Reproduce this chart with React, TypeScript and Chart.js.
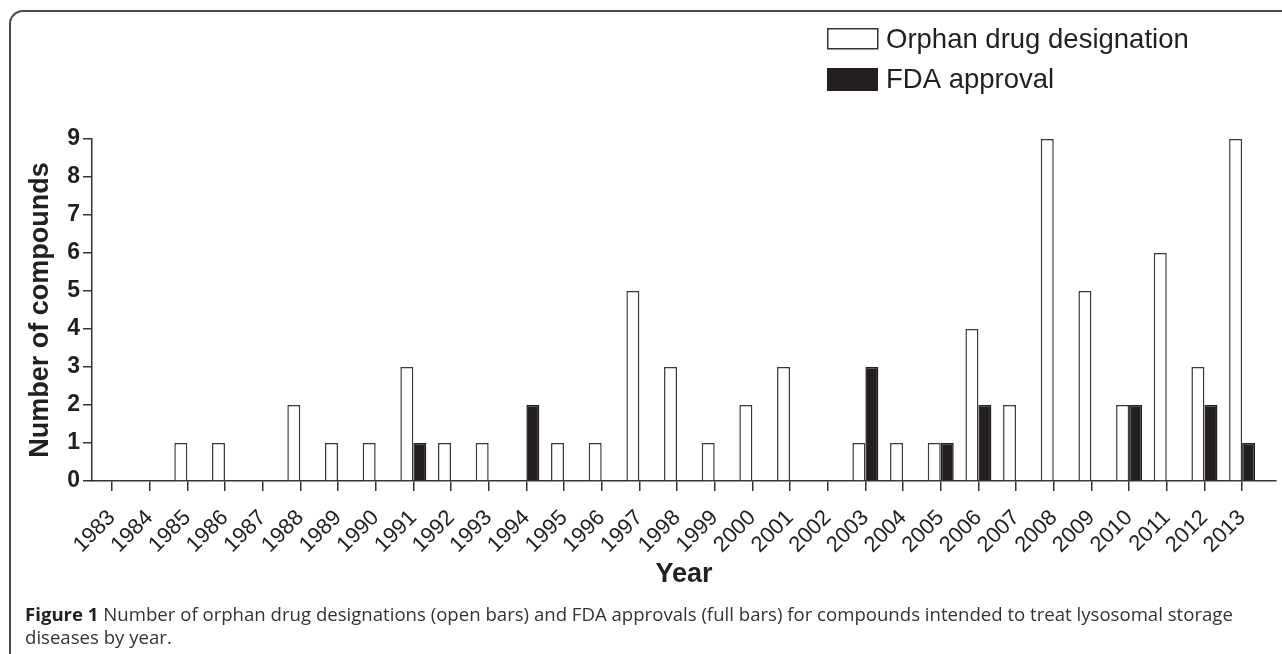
import React, { useEffect, useRef } from "react";
import { Chart, registerables } from "chart.js";

Chart.register(...registerables);

const years = [
  1983, 1984, 1985, 1986, 1987, 1988, 1989, 1990, 1991, 1992, 1993, 1994, 1995, 1996, 1997,
  1998, 1999, 2000, 2001, 2002, 2003, 2004, 2005, 2006, 2007, 2008, 2009, 2010, 2011, 2012, 2013,
];
const orphanDesignations = [
  0, 0, 1, 1, 0, 2, 1, 1, 3, 1, 1, 0, 1, 1, 5, 3, 1, 2, 3, 0, 1, 1, 1, 4, 2, 9, 5, 2, 6, 3, 9,
];
const fdaApprovals = [
  0, 0, 0, 0, 0, 0, 0, 0, 1, 0, 0, 2, 0, 0, 0, 0, 0, 0, 0, 0, 3, 0, 1, 2, 0, 0, 0, 2, 0, 2, 1,
];
const seriesLabels = ["Orphan drug designation", "FDA approval"];
const yTicks = [0, 1, 2, 3, 4, 5, 6, 7, 8, 9];

const xMin = 1982.47;
const xMax = 2013.9;

const INK = "#231f20";
const LINE = "#333333";
const FONT = "'Liberation Sans', Arial, Helvetica, sans-serif";

const legendPlugin = {
  id: "boxLegend",
  afterDraw(chart: any) {
    const ctx = chart.ctx as CanvasRenderingContext2D;
    ctx.save();
    chart.data.datasets.forEach((ds: any, i: number) => {
      const bx = 827;
      const by = 28 + i * 40;
      if (i === 0) {
        ctx.fillStyle = "#fff";
        ctx.fillRect(bx, by, 51, 21);
        ctx.strokeStyle = LINE;
        ctx.lineWidth = 1.5;
        ctx.strokeRect(bx + 0.75, by + 0.75, 50, 20);
      } else {
        ctx.fillStyle = INK;
        ctx.fillRect(bx, by, 51, 23);
      }
      ctx.fillStyle = INK;
      ctx.font = `27.5px ${FONT}`;
      ctx.textBaseline = "middle";
      ctx.textAlign = "left";
      ctx.fillText(ds.label, 886, by + 12);
    });
    ctx.restore();
  },
};

export default function App() {
  const canvasRef = useRef<HTMLCanvasElement | null>(null);

  useEffect(() => {
    if (!canvasRef.current) return;
    Chart.defaults.font.family = FONT;
    const chart = new Chart(canvasRef.current, {
      type: "bar",
      data: {
        labels: years,
        datasets: [
          {
            label: seriesLabels[0],
            data: orphanDesignations,
            backgroundColor: "#ffffff",
            borderColor: "#3a3a3a",
            borderWidth: 1.5,
            categoryPercentage: 0.69,
            barPercentage: 1,
          },
          {
            label: seriesLabels[1],
            data: fdaApprovals,
            backgroundColor: INK,
            borderColor: INK,
            borderWidth: 1.5,
            categoryPercentage: 0.69,
            barPercentage: 1,
          },
        ],
      },
      options: {
        animation: false,
        responsive: false,
        devicePixelRatio: 1,
        layout: { padding: { top: 139, left: 0, right: 6, bottom: 53 } },
        plugins: {
          legend: { display: false },
          tooltip: { enabled: false },
        },
        scales: {
          x: {
            type: "linear",
            min: xMin,
            max: xMax,
            offset: false,
            afterBuildTicks: (scale: any) => {
              scale.ticks = years.map((v) => ({ value: v }));
            },
            afterFit: (scale: any) => {
              scale.height = 120;
            },
            ticks: {
              autoSkip: false,
              minRotation: 45,
              maxRotation: 45,
              padding: 14,
              color: INK,
              font: { size: 22, family: FONT },
              callback: (v: any) => String(v),
            },
            grid: {
              offset: false,
              drawOnChartArea: false,
              drawTicks: true,
              tickLength: 10,
              color: LINE,
              lineWidth: 1.5,
            },
            border: { display: true, color: LINE, width: 1.5 },
            title: {
              display: true,
              text: "Year",
              color: INK,
              font: { size: 27, weight: "bold", family: FONT },
              padding: { top: 0, bottom: 10 },
            },
          },
          y: {
            min: 0,
            max: 9,
            afterBuildTicks: (scale: any) => {
              scale.ticks = yTicks.map((v) => ({ value: v }));
            },
            afterFit: (scale: any) => {
              scale.width = 92;
            },
            ticks: {
              padding: 3,
              color: INK,
              font: { size: 23, weight: "bold", family: FONT },
            },
            grid: {
              drawOnChartArea: false,
              drawTicks: true,
              tickLength: 9,
              color: LINE,
              lineWidth: 1.5,
            },
            border: { display: true, color: LINE, width: 1.5 },
            title: {
              display: true,
              text: "Number of compounds",
              color: INK,
              font: { size: 27, weight: "bold", family: FONT },
              padding: { top: 24, bottom: 0 },
            },
          },
        },
      } as any,
      plugins: [legendPlugin],
    });
    return () => chart.destroy();
  }, []);

  return (
    <div
      style={{
        position: "absolute",
        left: 0,
        top: 0,
        width: 1282,
        height: 654,
        overflow: "hidden",
        background: "#fff",
      }}
    >
      <div
        style={{
          position: "absolute",
          left: 9,
          top: 10,
          width: 1320,
          height: 700,
          borderTop: "2px solid #4a4a4a",
          borderLeft: "2px solid #4a4a4a",
          borderTopLeftRadius: 14,
          boxSizing: "border-box",
        }}
      />
      <canvas
        ref={canvasRef}
        width={1282}
        height={654}
        style={{ position: "absolute", left: 0, top: 0, width: 1282, height: 654 }}
      />
      <div
        style={{
          position: "absolute",
          left: 25,
          top: 602,
          fontFamily: "'Open Sans', 'Noto Sans', sans-serif",
          fontSize: 18.6,
          lineHeight: "23px",
          color: "#333",
          whiteSpace: "nowrap",
        }}
      >
        <b style={{ color: INK }}>Figure 1</b> Number of orphan drug designations (open bars) and FDA
        approvals (full bars) for compounds intended to treat lysosomal storage
        <br />
        diseases by year.
      </div>
    </div>
  );
}
